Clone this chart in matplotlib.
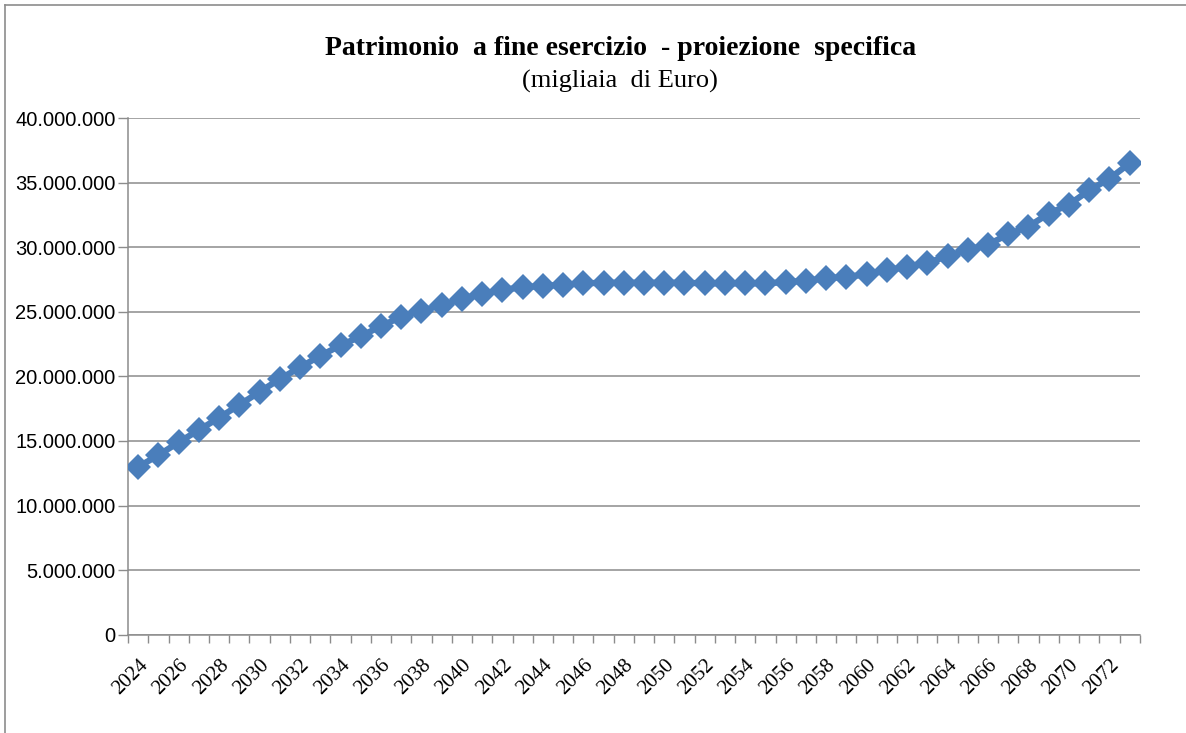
import matplotlib
matplotlib.use("Agg")
import matplotlib.pyplot as plt
import matplotlib.transforms as mtransforms
from matplotlib.ticker import FuncFormatter, FixedLocator
from matplotlib.patches import Rectangle

years = list(range(2024, 2074))
patrimonio = [
    13.0, 13.9, 14.9, 15.85, 16.8, 17.8, 18.8, 19.8, 20.7, 21.6,
    22.4, 23.1, 23.9, 24.6, 25.1, 25.5, 26.0, 26.4, 26.7, 26.9,
    27.0, 27.1, 27.2, 27.25, 27.25, 27.25, 27.25, 27.25, 27.2, 27.2,
    27.2, 27.2, 27.3, 27.4, 27.6, 27.7, 27.9, 28.2, 28.5, 28.8,
    29.3, 29.8, 30.2, 31.0, 31.6, 32.6, 33.3, 34.4, 35.3, 36.5,
]
patrimonio = [v * 1e6 for v in patrimonio]

title = "Patrimonio  a fine esercizio  - proiezione  specifica"
subtitle = "(migliaia  di Euro)"

plt.rcParams['font.family'] = ['Liberation Serif', 'DejaVu Serif']

fig = plt.figure(figsize=(11.86, 7.33), dpi=100)
# chart frame, only top and left edges fall inside the picture
fig.add_artist(plt.Line2D([5 / 1186, 5 / 1186], [0, 1 - 5 / 733], transform=fig.transFigure,
                          color='#8c8c8c', linewidth=1.2))
fig.add_artist(plt.Line2D([5 / 1186, 1], [1 - 5 / 733, 1 - 5 / 733], transform=fig.transFigure,
                          color='#8c8c8c', linewidth=1.2))
ax = fig.add_axes([0.108, 0.134, 0.853, 0.705])

x = list(range(len(years)))
ax.plot(x, patrimonio, color='#4a7ebb', linewidth=4.5, marker='D', markersize=13,
        markeredgewidth=0, zorder=3)

ax.set_ylim(0, 40e6)
ax.set_xlim(-0.5, len(years) - 0.5)
ax.set_yticks([i * 5e6 for i in range(9)])
ax.yaxis.set_major_formatter(FuncFormatter(lambda v, p: f"{int(v):,}".replace(",", ".")))
ax.grid(axis='y', color='#8c8c8c', linewidth=1.1)
ax.set_axisbelow(True)

# category boundaries as tick marks, labels every 2 years in the middle
ax.xaxis.set_major_locator(FixedLocator([i - 0.5 for i in range(len(years) + 1)]))
ax.xaxis.set_major_formatter(FuncFormatter(lambda v, p: ""))
ax.xaxis.set_minor_locator(FixedLocator(x[::2]))
ax.set_xticklabels([str(y) for y in years[::2]], minor=True, rotation=45,
                   ha='right', va='top', rotation_mode='anchor')
shift = mtransforms.ScaledTranslation(-5 / 100, 0, fig.dpi_scale_trans)
for lab in ax.xaxis.get_minorticklabels():
    lab.set_transform(lab.get_transform() + shift)
ax.tick_params(axis='x', which='major', length=6, color='#8c8c8c', width=1)
ax.tick_params(axis='x', which='minor', length=0, pad=15, labelsize=15)
ax.tick_params(axis='y', length=7, color='#8c8c8c', width=1, labelsize=14.5, pad=2)
for lab in ax.get_yticklabels():
    lab.set_family(['Liberation Sans', 'DejaVu Sans'])

for s in ['top', 'right']:
    ax.spines[s].set_visible(False)
for s in ['left', 'bottom']:
    ax.spines[s].set_color('#8c8c8c')
    ax.spines[s].set_linewidth(1.1)

fig.text(0.523, 0.934, title, ha='center', va='center', fontsize=20, fontweight='bold')
fig.text(0.523, 0.889, subtitle, ha='center', va='center', fontsize=19)

fig.savefig("out.png", dpi=100)
